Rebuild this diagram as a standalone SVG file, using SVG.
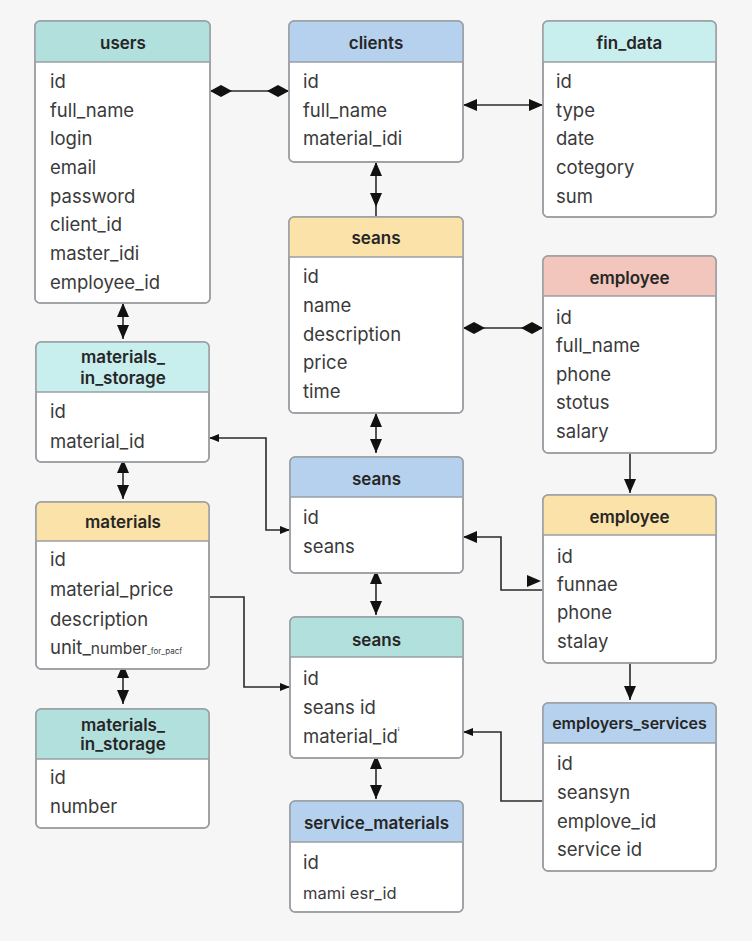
<svg xmlns="http://www.w3.org/2000/svg" width="752" height="941" viewBox="0 0 752 941">
<style>
.box{fill:#fff;stroke:#9a9ea3;stroke-width:1.5}
.hl{stroke:#9a9ea3;stroke-width:1.5}
.hd{font-family:Inter,"Liberation Sans",sans-serif;font-size:17px;font-weight:600;fill:#262626;text-anchor:middle}
.rw{font-family:Inter,"Liberation Sans",sans-serif;font-size:18.5px;fill:#3a3a3a}
.teal{fill:#b2e0dc}.cyan{fill:#c8eeee}.blue{fill:#b6d1ee}.yel{fill:#fbe2a8}.pink{fill:#f2c6bc}
.ln{fill:none;stroke:#2a2a2a;stroke-width:1.6}
</style>
<defs>
<marker id="ar" viewBox="0 0 14 12" refX="14" refY="6" markerWidth="14" markerHeight="12" markerUnits="userSpaceOnUse" orient="auto-start-reverse"><path d="M0,0 L14,6 L0,12 Z" fill="#111"/></marker>
<marker id="as" viewBox="0 0 10 8" refX="10" refY="4" markerWidth="10" markerHeight="8" markerUnits="userSpaceOnUse" orient="auto-start-reverse"><path d="M0,0 L10,4 L0,8 Z" fill="#111"/></marker>
<marker id="dm" viewBox="0 0 22 12" refX="22" refY="6" markerWidth="22" markerHeight="12" markerUnits="userSpaceOnUse" orient="auto-start-reverse"><path d="M0,6 L11,0 L22,6 L11,12 Z" fill="#111"/></marker>
</defs>
<rect width="752" height="941" fill="#f6f6f6"/>

<g id="connectors">
<path class="ln" d="M210,91 H289" marker-start="url(#dm)" marker-end="url(#dm)"/>
<path class="ln" d="M463,105 H543" marker-start="url(#ar)" marker-end="url(#ar)"/>
<path class="ln" d="M376,162 V207" marker-start="url(#ar)" marker-end="url(#ar)"/>
<path class="ln" d="M376,207 V217"/>
<path class="ln" d="M463,328 H543" marker-start="url(#dm)" marker-end="url(#dm)"/>
<path class="ln" d="M123,303 V339" marker-start="url(#ar)" marker-end="url(#ar)"/>
<path class="ln" d="M376,413 V453" marker-start="url(#ar)" marker-end="url(#ar)"/>
<path class="ln" d="M209,438 H266 V530 H290" marker-start="url(#as)" marker-end="url(#as)"/>
<path class="ln" d="M123,459 V499" marker-start="url(#ar)" marker-end="url(#ar)"/>
<path class="ln" d="M209,597 H244 V687 H290" marker-end="url(#as)"/>
<path class="ln" d="M376,570 V615" marker-start="url(#ar)" marker-end="url(#ar)"/>
<path class="ln" d="M123,664 V704" marker-start="url(#ar)" marker-end="url(#ar)"/>
<path class="ln" d="M376,755 V799" marker-start="url(#ar)" marker-end="url(#ar)"/>
<path class="ln" d="M630,453 V493" marker-end="url(#ar)"/>
<path class="ln" d="M630,663 V700" marker-end="url(#ar)"/>
<path class="ln" d="M543,590 H501 V537 H463" marker-end="url(#ar)"/>
<path d="M527,575 L541,581 L527,587 Z" fill="#111"/>
<path class="ln" d="M543,801 H501 V732 H463" marker-end="url(#as)"/>
</g>

<g id="users" transform="translate(35,21)">
<rect class="box" width="175" height="282" rx="5"/>
<path class="teal" d="M0,41 V5 Q0,0 5,0 H170 Q175,0 175,5 V41 Z"/>
<line class="hl" x1="0" y1="41" x2="175" y2="41"/>
<rect class="box" width="175" height="282" rx="5" style="fill:none"/>
<text class="hd" x="88" y="28">users</text>
<text class="rw" x="15" y="67">id</text>
<text class="rw" x="15" y="95.5">full_name</text>
<text class="rw" x="15" y="124">login</text>
<text class="rw" x="15" y="153">email</text>
<text class="rw" x="15" y="181.5">password</text>
<text class="rw" x="15" y="210">client_id</text>
<text class="rw" x="15" y="239">master_idi</text>
<text class="rw" x="15" y="268">employee_id</text>
</g>

<g id="clients" transform="translate(289,21)">
<rect class="box" width="174" height="141" rx="5"/>
<path class="blue" d="M0,41 V5 Q0,0 5,0 H169 Q174,0 174,5 V41 Z"/>
<line class="hl" x1="0" y1="41" x2="174" y2="41"/>
<rect class="box" width="174" height="141" rx="5" style="fill:none"/>
<text class="hd" x="87" y="28">clients</text>
<text class="rw" x="14" y="67">id</text>
<text class="rw" x="14" y="95.5">full_name</text>
<text class="rw" x="14" y="124">material_idi</text>
</g>

<g id="fin_data" transform="translate(543,21)">
<rect class="box" width="173" height="196" rx="5"/>
<path class="cyan" d="M0,41 V5 Q0,0 5,0 H168 Q173,0 173,5 V41 Z"/>
<line class="hl" x1="0" y1="41" x2="173" y2="41"/>
<rect class="box" width="173" height="196" rx="5" style="fill:none"/>
<text class="hd" x="86.5" y="28">fin_data</text>
<text class="rw" x="13" y="67">id</text>
<text class="rw" x="13" y="95.5">type</text>
<text class="rw" x="13" y="124">date</text>
<text class="rw" x="13" y="153">cotegory</text>
<text class="rw" x="13" y="181.5">sum</text>
</g>

<g id="seans_1" transform="translate(289,217)">
<rect class="box" width="174" height="196" rx="5"/>
<path class="yel" d="M0,40 V5 Q0,0 5,0 H169 Q174,0 174,5 V40 Z"/>
<line class="hl" x1="0" y1="40" x2="174" y2="40"/>
<rect class="box" width="174" height="196" rx="5" style="fill:none"/>
<text class="hd" x="87" y="27">seans</text>
<text class="rw" x="14" y="66">id</text>
<text class="rw" x="14" y="95">name</text>
<text class="rw" x="14" y="124">description</text>
<text class="rw" x="14" y="152">price</text>
<text class="rw" x="14" y="181">time</text>
</g>

<g id="employee_1" transform="translate(543,256)">
<rect class="box" width="173" height="197" rx="5"/>
<path class="pink" d="M0,40 V5 Q0,0 5,0 H168 Q173,0 173,5 V40 Z"/>
<line class="hl" x1="0" y1="40" x2="173" y2="40"/>
<rect class="box" width="173" height="197" rx="5" style="fill:none"/>
<text class="hd" x="86.5" y="28">employee</text>
<text class="rw" x="13" y="68">id</text>
<text class="rw" x="13" y="96">full_name</text>
<text class="rw" x="13" y="125">phone</text>
<text class="rw" x="13" y="153">stotus</text>
<text class="rw" x="13" y="182">salary</text>
</g>

<g id="materials_in_storage_1" transform="translate(36,342)">
<rect class="box" width="173" height="120" rx="5"/>
<path class="cyan" d="M0,50 V5 Q0,0 5,0 H168 Q173,0 173,5 V50 Z"/>
<line class="hl" x1="0" y1="50" x2="173" y2="50"/>
<rect class="box" width="173" height="120" rx="5" style="fill:none"/>
<text class="hd" x="87" y="21">materials_</text>
<text class="hd" x="87" y="42">in_storage</text>
<text class="rw" x="14" y="76">id</text>
<text class="rw" x="14" y="106">material_id</text>
</g>

<g id="materials" transform="translate(36,502)">
<rect class="box" width="173" height="167" rx="5"/>
<path class="yel" d="M0,39 V5 Q0,0 5,0 H168 Q173,0 173,5 V39 Z"/>
<line class="hl" x1="0" y1="39" x2="173" y2="39"/>
<rect class="box" width="173" height="167" rx="5" style="fill:none"/>
<text class="hd" x="87" y="26">materials</text>
<text class="rw" x="14" y="64">id</text>
<text class="rw" x="14" y="94">material_price</text>
<text class="rw" x="14" y="124">description</text>
<text class="rw" x="14" y="152">unit_<tspan style="font-size:15.5px">number</tspan><tspan style="font-size:8px">_for_pacf</tspan></text>
</g>

<g id="seans_2" transform="translate(290,457)">
<rect class="box" width="173" height="116" rx="5"/>
<path class="blue" d="M0,40 V5 Q0,0 5,0 H168 Q173,0 173,5 V40 Z"/>
<line class="hl" x1="0" y1="40" x2="173" y2="40"/>
<rect class="box" width="173" height="116" rx="5" style="fill:none"/>
<text class="hd" x="86.5" y="28">seans</text>
<text class="rw" x="13" y="67">id</text>
<text class="rw" x="13" y="96">seans</text>
</g>

<g id="seans_3" transform="translate(290,617)">
<rect class="box" width="173" height="141" rx="5"/>
<path class="teal" d="M0,40 V5 Q0,0 5,0 H168 Q173,0 173,5 V40 Z"/>
<line class="hl" x1="0" y1="40" x2="173" y2="40"/>
<rect class="box" width="173" height="141" rx="5" style="fill:none"/>
<text class="hd" x="86.5" y="29">seans</text>
<text class="rw" x="13" y="68">id</text>
<text class="rw" x="13" y="97">seans id</text>
<text class="rw" x="13" y="126">material_id<tspan style="font-size:9px" dy="-8">ⁱ</tspan></text>
</g>

<g id="employee_2" transform="translate(543,495)">
<rect class="box" width="173" height="168" rx="5"/>
<path class="yel" d="M0,40 V5 Q0,0 5,0 H168 Q173,0 173,5 V40 Z"/>
<line class="hl" x1="0" y1="40" x2="173" y2="40"/>
<rect class="box" width="173" height="168" rx="5" style="fill:none"/>
<text class="hd" x="86.5" y="28">employee</text>
<text class="rw" x="14" y="68">id</text>
<text class="rw" x="14" y="96">funnae</text>
<text class="rw" x="14" y="124">phone</text>
<text class="rw" x="14" y="153">stalay</text>
</g>

<g id="employers_services" transform="translate(543,703)">
<rect class="box" width="173" height="168" rx="5"/>
<path class="blue" d="M0,40 V5 Q0,0 5,0 H168 Q173,0 173,5 V40 Z"/>
<line class="hl" x1="0" y1="40" x2="173" y2="40"/>
<rect class="box" width="173" height="168" rx="5" style="fill:none"/>
<text class="hd" x="86.5" y="26" style="font-size:16px">employers_services</text>
<text class="rw" x="14" y="67">id</text>
<text class="rw" x="14" y="96">seansyn</text>
<text class="rw" x="14" y="125">emplove_id</text>
<text class="rw" x="14" y="153">service id</text>
</g>

<g id="materials_in_storage_2" transform="translate(36,709)">
<rect class="box" width="173" height="119" rx="5"/>
<path class="teal" d="M0,50 V5 Q0,0 5,0 H168 Q173,0 173,5 V50 Z"/>
<line class="hl" x1="0" y1="50" x2="173" y2="50"/>
<rect class="box" width="173" height="119" rx="5" style="fill:none"/>
<text class="hd" x="87" y="22">materials_</text>
<text class="hd" x="87" y="41">in_storage</text>
<text class="rw" x="14" y="75">id</text>
<text class="rw" x="14" y="104">number</text>
</g>

<g id="service_materials" transform="translate(290,801)">
<rect class="box" width="173" height="111" rx="5"/>
<path class="blue" d="M0,41 V5 Q0,0 5,0 H168 Q173,0 173,5 V41 Z"/>
<line class="hl" x1="0" y1="41" x2="173" y2="41"/>
<rect class="box" width="173" height="111" rx="5" style="fill:none"/>
<text class="hd" x="86.5" y="28">service_materials</text>
<text class="rw" x="13" y="68">id</text>
<text class="rw" x="13" y="98" style="font-size:16.5px">mami esr_id</text>
</g>
</svg>
